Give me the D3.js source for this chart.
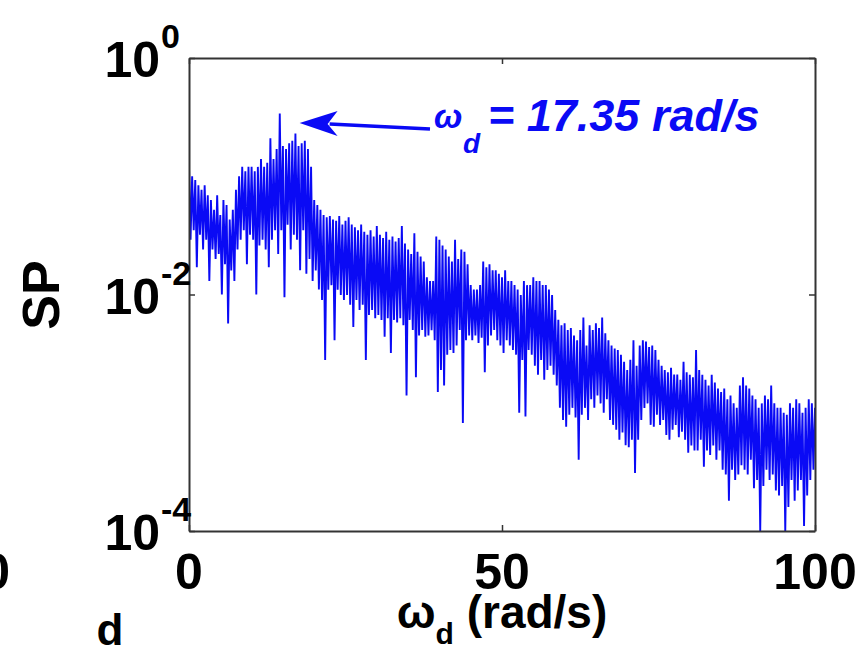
<!DOCTYPE html>
<html>
<head>
<meta charset="utf-8">
<script src="https://cdn.jsdelivr.net/npm/d3@7"></script>
<style>
  body { margin: 0; background: #fff; }
  text { font-family: "Liberation Sans", Arial, sans-serif; font-weight: bold; }
</style>
</head>
<body>
<script>
// spectrum sampled on a uniform grid, one value every omegaStep rad/s (0..100)
var omegaStep = 0.25;
var spValues = [
  .12,.029,.10,.035, .093,.017,.084,.032, .077,.024,.084,.029, .069,.013,.063,.024, .052,.020,.069,.022,
  .047,.010,.063,.018, .057,.0057,.043,.016, .052,.013,.077,.024, .10,.029,.12,.035, .11,.018,.12,.032,
  .12,.029,.11,.010, .12,.026,.14,.029, .12,.024,.13,.017, .21,.029,.14,.035, .17,.022,.34,.035,
  .18,.0095,.17,.039, .19,.024,.20,.032, .23,.029,.18,.016, .19,.035,.20,.015, .17,.020,.12,.013,
  .063,.016,.057,.011, .052,.0090,.047,.0028, .045,.011,.046,.012, .043,.0041,.042,.011, .046,.0099,.039,.0090,
  .042,.0099,.045,.0082, .039,.0053,.037,.0090, .035,.0074,.039,.0082, .034,.0028,.032,.0067, .035,.0074,.031,.0063,
  .038,.0067,.032,.0061, .030,.0044,.034,.0063, .029,.0032,.031,.0061, .028,.0058,.030,.0063, .038,.0055,.027,.0014,
  .024,.0061,.022,.0050, .033,.0020,.023,.0045, .021,.0050,.019,.0044, .014,.0045,.013,.0050, .013,.0041,.031,.0015,
  .029,.0023,.026,.0017, .024,.0031,.021,.0034, .019,.0032,.029,.0037, .020,.0050,.024,.00082, .023,.0041,.018,.0045,
  .012,.0041,.011,.0045, .011,.0039,.012,.0043, .019,.0022,.017,.0037, .018,.0045,.016,.0050, .016,.0041,.015,.0037,
  .014,.0032,.016,.0041, .013,.0037,.013,.0034, .012,.0031,.011,.0010, .0099,.0028,.013,.00093, .012,.0034,.012,.0031,
  .014,.0025,.013,.0021, .013,.0028,.012,.0019, .012,.0023,.011,.0025, .0099,.0021,.0074,.0017, .0061,.0011,.0055,.00087,
  .0057,.00076,.0050,.00096, .0052,.0011,.0045,.00091, .0041,.00040,.0050,.00096, .0064,.0011,.0037,.00087, .0055,.0013,.0050,.0011,
  .0057,.0014,.0052,.0012, .0064,.0010,.0047,.0013, .0041,.00087,.0037,.00079, .0035,.00072,.0034,.00059, .0031,.00068,.0027,.00053,
  .0023,.00051,.0028,.00059, .0041,.00031,.0025,.00059, .0037,.00087,.0041,.0011, .0040,.0012,.0036,.00079, .0037,.00076,.0034,.00096,
  .0028,.00079,.0025,.00087, .0023,.00065,.0022,.00059, .0024,.00072,.0021,.00079, .0021,.00062,.0019,.00069, .0027,.00059,.0022,.00046,
  .0021,.00053,.0020,.00048, .0034,.00048,.0023,.00059, .0021,.00035,.0019,.00048, .0017,.00044,.0021,.00053, .0018,.00040,.0016,.00048,
  .0015,.00033,.0016,.00030, .0013,.00018,.0014,.00033, .0012,.00027,.0011,.00030, .0017,.00036,.0020,.00033, .0017,.00030,.0016,.00040,
  .0014,.00023,.0013,.00027, .0011,.0001,.0012,.00024, .0014,.00033,.0013,.00027, .0017,.00030,.0012,.00022, .0011,.00020,.0011,.00024,
  .0010,.0001,.00096,.00016, .0012,.00027,.0011,.00018, .0013,.00022,.0012,.00027, .0010,.00011,.0011,.00020, .0013,.00027,.0012,.00033,
  .0011
];
var xTicks = [0, 50, 100];
var yTicks = [1, 1e-2, 1e-4];
var yTickExp = ["0", "-2", "-4"];
var peakOmega = 17.35;
var peakLabel = "= 17.35 rad/s";

var W = 862, H = 672;
var plotLeft = 189, plotTop = 58, plotRight = 815, plotBottom = 531;
var blue = "#0a0af5";

var svg = d3.select("body").append("svg")
            .attr("width", W)
            .attr("height", H);

var x = d3.scaleLinear().domain([0, 100]).range([plotLeft, plotRight]);
var y = d3.scaleLog().domain([1e-4, 1]).range([plotBottom, plotTop]);

svg.append("clipPath").attr("id", "plotClip")
   .append("rect")
   .attr("x", plotLeft).attr("y", plotTop)
   .attr("width", plotRight - plotLeft).attr("height", plotBottom - plotTop);

// spectrum
var line = d3.line()
             .x(function(d, i) { return x(i * omegaStep); })
             .y(function(d) { return y(d); });

svg.append("path")
   .attr("d", line(spValues))
   .attr("clip-path", "url(#plotClip)")
   .attr("fill", "none")
   .attr("stroke", blue)
   .attr("stroke-width", 1.9)
   .attr("stroke-linejoin", "bevel");

// axes with inward ticks on all four sides
function styleAxis(g) {
  g.select(".domain").attr("stroke", "#333").attr("stroke-width", 2);
  g.selectAll(".tick line").attr("stroke", "#333").attr("stroke-width", 1.5);
  g.selectAll(".tick text").remove();
}
svg.append("g").attr("transform", "translate(0," + plotBottom + ")")
   .call(d3.axisBottom(x).tickValues(xTicks).tickSize(-6).tickSizeOuter(0)).call(styleAxis);
svg.append("g").attr("transform", "translate(0," + plotTop + ")")
   .call(d3.axisTop(x).tickValues(xTicks).tickSize(-6).tickSizeOuter(0)).call(styleAxis);
svg.append("g").attr("transform", "translate(" + plotLeft + ",0)")
   .call(d3.axisLeft(y).tickValues(yTicks).tickSize(-6).tickSizeOuter(0)).call(styleAxis);
svg.append("g").attr("transform", "translate(" + plotRight + ",0)")
   .call(d3.axisRight(y).tickValues(yTicks).tickSize(-6).tickSizeOuter(0)).call(styleAxis);

// x tick labels
svg.selectAll(".xlab").data(xTicks).enter().append("text")
   .attr("class", "xlab")
   .attr("x", function(d) { return x(d); })
   .attr("y", 589)
   .attr("text-anchor", "middle")
   .attr("font-size", 50)
   .text(function(d) { return d; });

// y tick labels 10^n
svg.selectAll(".ylab").data(yTicks).enter().append("text")
   .attr("class", "ylab")
   .attr("x", 160)
   .attr("y", function(d) { return y(d) + 19; })
   .attr("text-anchor", "end")
   .attr("font-size", 50)
   .text("10");
svg.selectAll(".yexp").data(yTicks).enter().append("text")
   .attr("class", "yexp")
   .attr("x", 161)
   .attr("y", function(d) { return y(d) - 10; })
   .attr("font-size", 34)
   .text(function(d, i) { return yTickExp[i]; });

// axis titles
svg.append("text")
   .attr("transform", "translate(59,295) rotate(-90)")
   .attr("text-anchor", "middle")
   .attr("font-size", 52)
   .text("SP");

var xt = svg.append("text")
   .attr("x", 502).attr("y", 628)
   .attr("text-anchor", "middle")
   .attr("font-size", 46);
xt.append("tspan").text("\u03c9");
xt.append("tspan").attr("font-size", 30).attr("dy", 16).text("d");
xt.append("tspan").attr("dy", -16).text(" (rad/s)");

// stray panel letter and neighbour tick label at the edge
svg.append("text").attr("x", 110).attr("y", 645).attr("text-anchor", "middle")
   .attr("font-size", 44).text("d");
svg.append("text").attr("x", 10).attr("y", 589).attr("text-anchor", "end")
   .attr("font-size", 50).text("0");

// annotation arrow pointing to the peak
var tipX = x(peakOmega) + 2, tipY = 123;
svg.append("path")
   .attr("d", "M" + (tipX + 30) + "," + (tipY + 1) + " L430," + (tipY + 6))
   .attr("stroke", blue).attr("stroke-width", 3.5).attr("fill", "none");
svg.append("path")
   .attr("d", "M" + tipX + "," + tipY + " l38,-12 l-10,13 l10,12 z")
   .attr("fill", blue);

var at = svg.append("g").attr("fill", blue).attr("font-style", "italic");
at.append("text").attr("x", 434).attr("y", 128).attr("font-size", 34).text("\u03c9");
at.append("text").attr("x", 463).attr("y", 153).attr("font-size", 28).text("d");
at.append("text").attr("x", 488).attr("y", 131).attr("font-size", 45).text(peakLabel);
</script>
</body>
</html>
